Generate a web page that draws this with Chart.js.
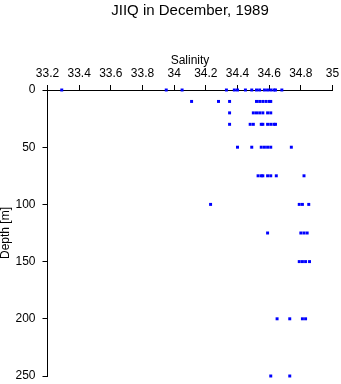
<!DOCTYPE html>
<html>
<head>
<meta charset="utf-8">
<script src="https://cdn.jsdelivr.net/npm/chart.js@4"></script>
<style>
  html, body { margin: 0; padding: 0; background: #fff; }
  #wrap { width: 341px; height: 384px; }
</style>
</head>
<body>
<div id="wrap"><canvas id="chart"></canvas></div>
<script>
// salinity readings at each sampled depth (m)
const depths = [0, 10, 20, 30, 50, 75, 100, 125, 150, 200, 250];
const sal0 = [33.29, 33.95, 34.05, 34.33, 34.38, 34.40, 34.45, 34.49, 34.52, 34.54, 34.57, 34.59, 34.61, 34.63, 34.64, 34.68];
const sal10 = [34.11, 34.28, 34.35, 34.52, 34.54, 34.56, 34.58, 34.60, 34.61];
const sal20 = [34.35, 34.50, 34.52, 34.54, 34.56, 34.59, 34.61];
const sal30 = [34.35, 34.48, 34.50, 34.55, 34.56, 34.59, 34.61, 34.63, 34.64];
const sal50 = [34.40, 34.49, 34.55, 34.57, 34.59, 34.61, 34.74];
const sal75 = [34.53, 34.55, 34.56, 34.59, 34.61, 34.645, 34.82];
const sal100 = [34.23, 34.79, 34.81, 34.85];
const sal125 = [34.59, 34.80, 34.82, 34.84];
const sal150 = [34.79, 34.81, 34.83, 34.855];
const sal200 = [34.65, 34.73, 34.81, 34.83];
const sal250 = [34.61, 34.73];

const salinityByDepth = [sal0, sal10, sal20, sal30, sal50, sal75, sal100, sal125, sal150, sal200, sal250];

const points = [];
depths.forEach((d, i) => {
    salinityByDepth[i].forEach(s => points.push({ x: s, y: d }));
});

const font = { family: 'Liberation Sans', size: 12 };

new Chart(document.getElementById('chart').getContext('2d'), {
    type: 'scatter',
    data: {
        datasets: [{
            data: points,
            pointStyle: 'rect',
            pointRadius: 2.1,
            pointBorderWidth: 0,
            backgroundColor: '#0000ff',
            borderColor: '#0000ff',
            clip: false
        }]
    },
    options: {
        responsive: true,
        maintainAspectRatio: false,
        animation: false,
        layout: { autoPadding: false, padding: { left: 0, right: 8.5, top: 0, bottom: 8 } },
        scales: {
            x: {
                type: 'linear',
                position: 'top',
                min: 33.2,
                max: 35,
                afterFit: s => { s.height = 70; s.paddingLeft = 0; s.paddingRight = 0; },
                ticks: {
                    stepSize: 0.2,
                    autoSkip: false,
                    maxRotation: 0,
                    padding: 4,
                    color: '#000',
                    font: font,
                    callback: v => String(Math.round(v * 10) / 10)
                },
                grid: { drawOnChartArea: false, drawTicks: true, tickLength: 5, color: '#000' },
                border: { display: true, color: '#000', width: 1 },
                title: { display: true, text: 'Salinity', color: '#000', font: font, padding: { top: 33, bottom: 0 } }
            },
            y: {
                type: 'linear',
                reverse: true,
                min: 0,
                max: 250,
                afterFit: s => { s.width = 47.5; s.paddingTop = 0; s.paddingBottom = 0; },
                ticks: { stepSize: 50, padding: 7, color: '#000', font: font },
                grid: { drawOnChartArea: false, drawTicks: true, tickLength: 5, color: '#000' },
                border: { display: true, color: '#000', width: 1 },
                title: { display: true, text: 'Depth [m]', color: '#000', font: { family: 'Liberation Sans', size: 12, lineHeight: 1 }, padding: 0 }
            }
        },
        plugins: {
            legend: { display: false },
            tooltip: { enabled: false },
            title: {
                display: true,
                fullSize: false,
                text: 'JIIQ in December, 1989',
                color: '#000',
                font: { family: 'Liberation Sans', size: 15, weight: 'normal' },
                padding: { top: 2, bottom: 0 }
            }
        }
    }
});
</script>
</body>
</html>
